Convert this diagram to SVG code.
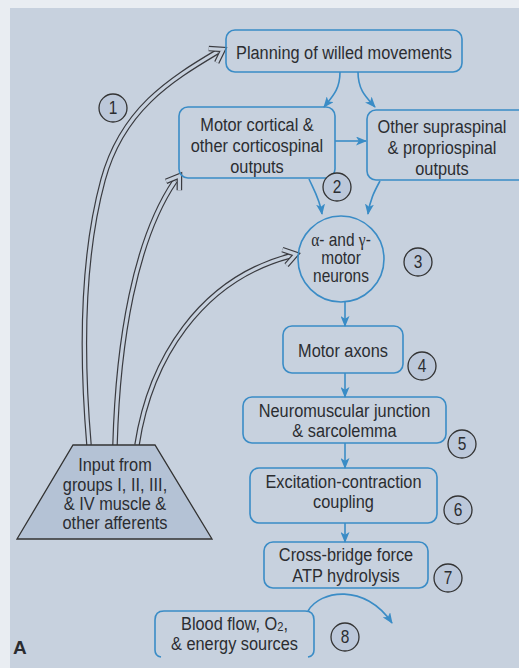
<svg xmlns="http://www.w3.org/2000/svg" width="519" height="668" viewBox="0 0 519 668">
<defs>
<style>
.page{fill:#c7d1de}
.box{fill:none;stroke:#3a8cc6;stroke-width:1.6}
.blue{fill:none;stroke:#3a8cc6;stroke-width:1.6}
.t{font-family:"Liberation Sans",Arial,sans-serif;font-size:19px;fill:#2b2d31;text-anchor:middle;transform-box:fill-box;transform-origin:center;transform:scaleX(0.86)}
.c{font-size:18px}
.gr{font-family:"Liberation Serif","Times New Roman",serif}
.num{font-family:"Liberation Sans",Arial,sans-serif;font-size:18px;fill:#2b2d31;text-anchor:middle;transform-box:fill-box;transform-origin:center;transform:scaleX(0.86)}
.lab{fill:#bcc8da;stroke:#333;stroke-width:1.3}
.dk{fill:none;stroke:#3a3b40;stroke-width:5.6}
.lt{fill:none;stroke:#c7d1de;stroke-width:3.2}
</style>
<marker id="ah" viewBox="0 0 11 9" refX="10" refY="4.5" markerWidth="11" markerHeight="9" markerUnits="userSpaceOnUse" orient="auto">
<path d="M0,0 L11,4.5 L0,9 L2.8,4.5 z" fill="#3a8cc6"/>
</marker>
<g id="dh">
<path class="dk" d="M-13,-8 L-1,0 L-13,8"/>
<path class="lt" d="M-13,-8 L-1,0 L-13,8"/>
</g>
</defs>
<rect width="519" height="668" fill="#e9edf2"/>
<rect class="page" x="10" y="8" width="509" height="660"/>

<g id="connectors">
<path class="blue" marker-end="url(#ah)" d="M340 72 C340 90 332 97 324 107"/>
<path class="blue" marker-end="url(#ah)" d="M358 72 C358 90 366 97 375 107"/>
<path class="blue" marker-end="url(#ah)" d="M335 141 L366 141"/>
<path class="blue" marker-end="url(#ah)" d="M309 179 C315 192 320 200 322 214"/>
<path class="blue" marker-end="url(#ah)" d="M380 181 C374 192 370 200 368 214"/>
<path class="blue" marker-end="url(#ah)" d="M345 301 L345 326"/>
<path class="blue" marker-end="url(#ah)" d="M345 373 L345 397"/>
<path class="blue" marker-end="url(#ah)" d="M345 443 L345 468"/>
<path class="blue" marker-end="url(#ah)" d="M345 523 L345 542"/>
<path class="blue" marker-end="url(#ah)" d="M308 611 C320 590 365 583 392 623"/>

<path class="dk" d="M89 445 C80 340 84 250 103 180 S170 80 217 52"/>
<path class="lt" d="M89 445 C80 340 84 250 103 180 S170 80 217 52"/>
<use href="#dh" transform="translate(224 49) rotate(-30)"/>

<path class="dk" d="M115 445 C118 340 135 240 175 181"/>
<path class="lt" d="M115 445 C118 340 135 240 175 181"/>
<use href="#dh" transform="translate(180 175) rotate(-56)"/>

<path class="dk" d="M137 445 C150 360 200 280 290 256"/>
<path class="lt" d="M137 445 C150 360 200 280 290 256"/>
<use href="#dh" transform="translate(297 254) rotate(-15)"/>
</g>

<g id="planning">
<rect class="box" x="226" y="30" width="236" height="42" rx="9"/>
<text class="t" x="344" y="59">Planning of willed movements</text>
</g>
<g id="motor-cortical">
<rect class="box" x="179" y="107" width="156" height="71" rx="9"/>
<text class="t" x="257" y="131">Motor cortical &amp;</text>
<text class="t" x="257" y="152">other corticospinal</text>
<text class="t" x="257" y="173">outputs</text>
</g>
<g id="other-supraspinal">
<rect class="box" x="367" y="110" width="160" height="70" rx="9"/>
<text class="t" x="442" y="133">Other supraspinal</text>
<text class="t" x="442" y="154">&amp; propriospinal</text>
<text class="t" x="442" y="175">outputs</text>
</g>
<g id="motor-neurons">
<circle class="box" cx="341" cy="259" r="43"/>
<text class="t c" x="341" y="246"><tspan class="gr">α</tspan>- and <tspan class="gr">γ</tspan>-</text>
<text class="t c" x="341" y="264">motor</text>
<text class="t c" x="341" y="282">neurons</text>
</g>
<g id="motor-axons">
<rect class="box" x="283" y="326" width="120" height="47" rx="9"/>
<text class="t" x="343" y="357">Motor axons</text>
</g>
<g id="nmj">
<rect class="box" x="243" y="397" width="203" height="46" rx="9"/>
<text class="t" x="344.5" y="417">Neuromuscular junction</text>
<text class="t" x="344.5" y="437">&amp; sarcolemma</text>
</g>
<g id="ec-coupling">
<rect class="box" x="250" y="468" width="187" height="55" rx="9"/>
<text class="t" x="343.5" y="488">Excitation-contraction</text>
<text class="t" x="343.5" y="508">coupling</text>
</g>
<g id="cross-bridge">
<rect class="box" x="264" y="542" width="164" height="46" rx="9"/>
<text class="t" x="346" y="561">Cross-bridge force</text>
<text class="t" x="346" y="582">ATP hydrolysis</text>
</g>
<g id="blood-flow">
<path class="box" d="M155 650 L155 620 Q155 611 164 611 L305 611 Q314 611 314 620 L314 650 M155 650 Q155 656 161 657 M314 650 Q314 656 308 657"/>
<text class="t" x="234.5" y="630">Blood flow, O<tspan font-size="13" dy="1.5">2</tspan><tspan dy="-1.5">,</tspan></text>
<text class="t" x="234.5" y="650">&amp; energy sources</text>
</g>
<g id="afferent-input">
<path d="M73 445 L155 445 L212 539 L17 539 Z" fill="#b4c2d5" stroke="#333" stroke-width="1.3"/>
<text class="t" x="115" y="471">Input from</text>
<text class="t" x="115" y="491">groups I, II, III,</text>
<text class="t" x="115" y="510">&amp; IV muscle &amp;</text>
<text class="t" x="115" y="529">other afferents</text>
</g>

<g id="labels">
<circle class="lab" cx="113" cy="108" r="14"/><text class="num" x="113" y="114.5">1</text>
<circle class="lab" cx="337" cy="187" r="14"/><text class="num" x="337" y="193.5">2</text>
<circle class="lab" cx="418" cy="262" r="14"/><text class="num" x="418" y="268.5">3</text>
<circle class="lab" cx="422" cy="366" r="14"/><text class="num" x="422" y="372.5">4</text>
<circle class="lab" cx="462" cy="444" r="14"/><text class="num" x="462" y="450.5">5</text>
<circle class="lab" cx="458" cy="510" r="14"/><text class="num" x="458" y="516.5">6</text>
<circle class="lab" cx="448" cy="578" r="14"/><text class="num" x="448" y="584.5">7</text>
<circle class="lab" cx="345" cy="637" r="14"/><text class="num" x="345" y="643.5">8</text>
</g>
<text x="13" y="654" font-family="'Liberation Sans',Arial,sans-serif" font-size="19" font-weight="bold" fill="#2b2c30">A</text>
</svg>
